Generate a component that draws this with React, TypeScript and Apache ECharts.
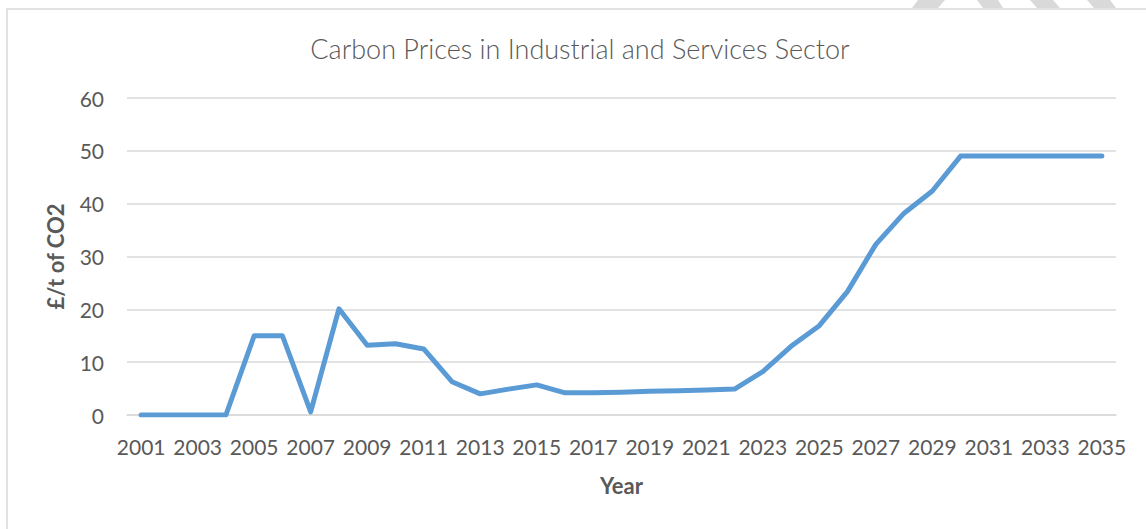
import React, { useEffect, useRef } from "react";
import * as echarts from "echarts";

const years: string[] = [
  "2001","2002","2003","2004","2005","2006","2007","2008","2009","2010",
  "2011","2012","2013","2014","2015","2016","2017","2018","2019","2020",
  "2021","2022","2023","2024","2025","2026","2027","2028","2029","2030",
  "2031","2032","2033","2034","2035",
];
const carbonPrices: number[] = [
  0, 0, 0, 0, 15.0, 15.0, 0.6, 20.1, 13.2, 13.5,
  12.5, 6.3, 4.0, 4.9, 5.7, 4.2, 4.2, 4.3, 4.5, 4.6,
  4.75, 4.9, 8.2, 13.0, 16.9, 23.4, 32.3, 38.2, 42.4, 49.0,
  49.0, 49.0, 49.0, 49.0, 49.0,
];
const titleText = "Carbon Prices in Industrial and Services Sector";
const yAxisName = "£/t of CO2";
const xAxisName = "Year";

export default function App() {
  const ref = useRef<HTMLDivElement>(null);
  useEffect(() => {
    if (!ref.current) return;
    const chart = echarts.init(ref.current, null, { renderer: "svg" });
    const font = "Lato, 'Open Sans', sans-serif";
    chart.setOption({
      animation: false,
      backgroundColor: "#ffffff",
      textStyle: { fontFamily: font },
      grid: { left: 127, right: 30, top: 98, bottom: 114, containLabel: false },
      graphic: [
        {
          type: "rect",
          shape: { x: 7, y: 9, width: 1300, height: 700 },
          style: { fill: "none", stroke: "#d9d9d9", lineWidth: 1.5 },
          silent: true,
        },
        { type: "polygon", shape: { points: [[918, 0], [945, 0], [938, 8], [912, 8]] }, style: { fill: "#d9d9d9" }, silent: true },
        { type: "polygon", shape: { points: [[977, 0], [998, 0], [1003, 8], [983, 8]] }, style: { fill: "#d9d9d9" }, silent: true },
        { type: "polygon", shape: { points: [[1030, 0], [1053, 0], [1060, 8], [1037, 8]] }, style: { fill: "#d9d9d9" }, silent: true },
        { type: "polygon", shape: { points: [[1087, 0], [1110, 0], [1116, 8], [1094, 8]] }, style: { fill: "#d9d9d9" }, silent: true },
        {
          type: "text",
          x: 580,
          y: 48,
          style: {
            text: titleText,
            fontFamily: font,
            fontSize: 27,
            fontWeight: 300,
            fill: "#595959",
            textAlign: "center",
            textVerticalAlign: "middle",
          },
        },
      ],
      xAxis: {
        type: "category",
        data: years,
        boundaryGap: true,
        name: xAxisName,
        nameLocation: "middle",
        nameGap: 59,
        nameTextStyle: { fontFamily: font, fontSize: 22, fontWeight: "bold", color: "#595959" },
        axisLine: { show: true, lineStyle: { color: "#d9d9d9", width: 1.5 } },
        axisTick: { show: false },
        axisLabel: { interval: 1, color: "#595959", fontFamily: font, fontSize: 21, margin: 21 },
        splitLine: { show: false },
      },
      yAxis: {
        type: "value",
        min: 0,
        max: 60,
        interval: 10,
        name: yAxisName,
        nameLocation: "middle",
        nameGap: 61,
        nameTextStyle: { fontFamily: font, fontSize: 22, fontWeight: "bold", color: "#595959" },
        axisLine: { show: false },
        axisTick: { show: false },
        axisLabel: { color: "#595959", fontFamily: font, fontSize: 21, margin: 23 },
        splitLine: { show: true, lineStyle: { color: "#d9d9d9", width: 1.5 } },
      },
      series: [
        {
          type: "line",
          data: carbonPrices,
          symbol: "none",
          lineStyle: { color: "#5b9bd5", width: 5, cap: "round", join: "round" },
          itemStyle: { color: "#5b9bd5" },
        },
      ],
    });
    return () => chart.dispose();
  }, []);
  return (
    <div
      ref={ref}
      style={{ position: "absolute", left: 0, top: 0, width: 1146, height: 529 }}
    />
  );
}
